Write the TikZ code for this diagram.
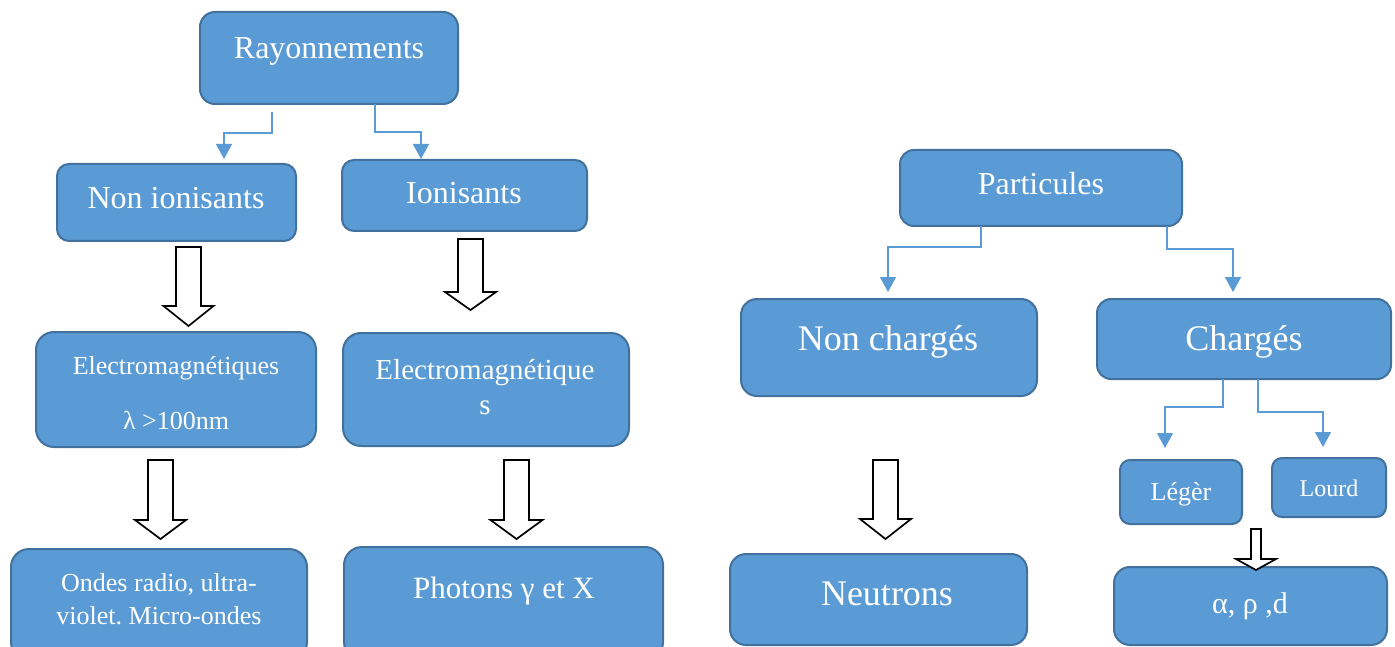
\documentclass[tikz,border=0pt]{standalone}
\usepackage{fontspec}
\setmainfont{Liberation Serif}
\usetikzlibrary{arrows.meta}
\frenchspacing
\definecolor{boxfill}{HTML}{5B9BD5}
\definecolor{boxline}{HTML}{41719C}
\definecolor{connc}{HTML}{5B9BD5}
\tikzset{
  box/.style={draw=boxline, fill=boxfill, line width=2pt, inner sep=0pt, rectangle},
  txt/.style={text=white, inner sep=0pt, anchor=base},
  conn/.style={draw=connc, line width=1.3pt, -{Triangle[width=16pt,length=15pt]}},
  hollow/.style={draw=black, fill=white, line width=1.7pt, line join=miter},
}
\newcommand\mybox[6]{\node[box, rounded corners=#6pt, minimum width={(#4-#2)*1pt}, minimum height={(#5-#3)*1pt}] (#1) at ({(#2+#4)/2},{(#3+#5)/2}) {};}
\newcommand\mytxt[5]{\node[txt, font=\fontsize{#4}{#4}\selectfont] (#1) at (#2,#3) {#5};}
\newcommand\blockarrow[7]{%
  \draw[hollow] (#2-#6,#3) -- (#2+#6,#3) -- (#2+#6,#4) -- (#2+#7,#4) -- (#2,#5) -- (#2-#7,#4) -- (#2-#6,#4) -- cycle;
  \coordinate (#1) at (#2,#5);}
\begin{document}
\begin{tikzpicture}[x=1pt,y=-1pt]
\clip (0,0) rectangle (1395,647);
\fill[white] (0,0) rectangle (1395,647);
% boxes
\mybox{ray}{200}{12}{458}{104}{15}
\mybox{nonion}{57}{164}{296}{241}{12}
\mybox{ion}{342}{160}{587}{231}{12}
\mybox{emA}{36}{332}{316}{447}{18}
\mybox{emB}{343}{333}{629}{446}{18}
\mybox{ondes}{11}{549}{307}{660}{18}
\mybox{phot}{344}{547}{663}{660}{18}
\mybox{part}{900}{150}{1182}{226}{14}
\mybox{nch}{741}{299}{1037}{396}{16}
\mybox{ch}{1097}{299}{1391}{379}{14}
\mybox{leg}{1120}{460}{1242}{524}{10}
\mybox{lourd}{1272}{458}{1386}{517}{10}
\mybox{neut}{730}{554}{1027}{645}{16}
\mybox{alpha}{1114}{567}{1387}{645}{16}
% texts
\mytxt{tray}{329}{59}{32}{Rayonnements}
\mytxt{tnonion}{176}{209}{32}{Non ionisants}
\mytxt{tion}{464}{204}{32}{Ionisants}
\mytxt{temA1}{176}{374}{26}{Electromagnétiques}
\mytxt{temA2}{176}{429}{26}{λ >100nm}
\mytxt{temB1}{485}{379}{29}{Electromagnétique}
\mytxt{temB2}{485}{414}{29}{s}
\mytxt{tondes1}{159}{591}{26}{Ondes radio, ultra-}
\mytxt{tondes2}{159}{624}{26}{violet. Micro-ondes}
\mytxt{tphot}{504}{598}{31}{Photons γ et X}
\mytxt{tpart}{1041}{195}{32}{Particules}
\mytxt{tnch}{888}{350}{36}{Non chargés}
\mytxt{tch}{1244}{350}{36}{Chargés}
\mytxt{tleg}{1181}{500}{26}{Légèr}
\mytxt{tlourd}{1329}{496}{24}{Lourd}
\mytxt{tneut}{887}{605}{36}{Neutrons}
\mytxt{talpha}{1250}{613}{30}{α, ρ ,d}
% thin connectors
\coordinate (s1) at (272,112); \coordinate (e1) at (224,159);
\coordinate (s2) at (375,104); \coordinate (e2) at (421,159);
\coordinate (s3) at (981,226); \coordinate (e3) at (888,292);
\coordinate (s4) at (1167,226); \coordinate (e4) at (1233,292);
\coordinate (s5) at (1223,379); \coordinate (e5) at (1165,448);
\coordinate (s6) at (1258,379); \coordinate (e6) at (1323,447);
\draw[conn] (s1) -- ++(0,21) -| (e1);
\draw[conn] (s2) -- ++(0,28) -| (e2);
\draw[conn] (s3) -- ++(0,21) -| (e3);
\draw[conn] (s4) -- ++(0,23) -| (e4);
\draw[conn] (s5) -- ++(0,28) -| (e5);
\draw[conn] (s6) -- ++(0,33) -| (e6);
% hollow block arrows
\blockarrow{a1}{188.5}{247}{306}{326}{12.5}{25}
\blockarrow{a2}{470.5}{239}{292}{310}{12.5}{25.5}
\blockarrow{a3}{160.5}{460}{520}{539}{12.5}{25.5}
\blockarrow{a4}{516.5}{460}{520}{539}{12.5}{26}
\blockarrow{a5}{885.5}{460}{519}{539}{12.5}{25.5}
\blockarrow{a6}{1256}{529}{559}{570}{5}{20}
\end{tikzpicture}
\end{document}
